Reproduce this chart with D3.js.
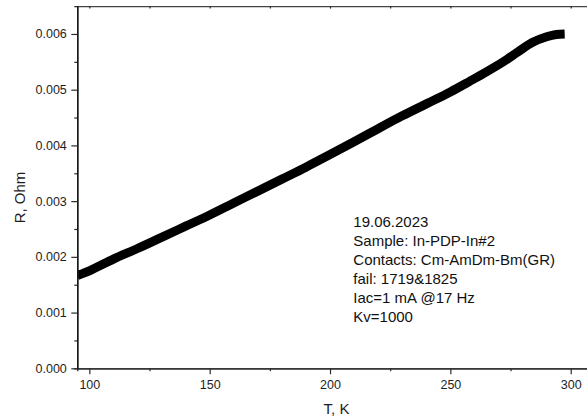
<!DOCTYPE html>
<html>
<head>
<meta charset="utf-8">
<script src="https://cdn.jsdelivr.net/npm/d3@7"></script>
<style>
  html, body { margin: 0; padding: 0; background: #fff; }
  svg { display: block; }
  text { font-family: "Liberation Sans", Arial, sans-serif; }
</style>
</head>
<body>
<svg id="chart" width="587" height="419"></svg>
<script>
// Temperature sweep, K
const temperature = [95, 100, 110, 120, 130, 140, 150, 160, 170, 180, 190, 200, 210,
  220, 230, 240, 250, 258, 265, 272, 278, 284, 290, 294, 297.5];
// Measured resistance, Ohm
const resistance = [0.001666, 0.00175, 0.00196, 0.00215, 0.00235, 0.00255, 0.00275,
  0.002965, 0.00318, 0.003395, 0.00361, 0.003835, 0.004065, 0.0043, 0.00453, 0.004745,
  0.00496, 0.00515, 0.00532, 0.0055, 0.005675, 0.005845, 0.00595, 0.00599, 0.006];

const xMajorTicks = [100, 150, 200, 250, 300];
const xMinorTicks = [125, 175, 225, 275];
const yMajorTicks = [0, 0.001, 0.002, 0.003, 0.004, 0.005, 0.006];
const yMinorTicks = [0.0005, 0.0015, 0.0025, 0.0035, 0.0045, 0.0055];

const notes = [
  "19.06.2023",
  "Sample: In-PDP-In#2",
  "Contacts: Cm-AmDm-Bm(GR)",
  "fail: 1719&1825",
  "Iac=1 mA @17 Hz",
  "Kv=1000"
];

const svg = d3.select("#chart");
const plotLeft = 77.3, plotRight = 589, plotTop = 6.1, plotBottom = 368.3;

const x = d3.scaleLinear().domain([95, 307.6]).range([plotLeft, plotRight]);
const y = d3.scaleLinear().domain([0, 0.0065]).range([plotBottom, plotTop]);

const axisColor = "#2b2b2b";
const labelColor = "#1e1e1e";

function styleAxis(g) {
  g.selectAll("path.domain").attr("stroke", axisColor).attr("stroke-width", 1.3);
  g.selectAll(".tick line").attr("stroke", axisColor).attr("stroke-width", 1.2);
  g.selectAll(".tick text").attr("fill", labelColor)
    .style("font-family", '"Liberation Sans", Arial, sans-serif')
    .style("font-size", "12.5px");
}

// Clip so the data stays inside the frame
svg.append("defs").append("clipPath").attr("id", "plotClip")
  .append("rect").attr("x", plotLeft).attr("y", plotTop)
  .attr("width", plotRight - plotLeft).attr("height", plotBottom - plotTop);

// Data curve
const points = temperature.map((t, i) => [t, resistance[i]]);
const line = d3.line().x(d => x(d[0])).y(d => y(d[1])).curve(d3.curveMonotoneX);
svg.append("path")
  .datum(points)
  .attr("clip-path", "url(#plotClip)")
  .attr("d", line)
  .attr("fill", "none")
  .attr("stroke", "#000")
  .attr("stroke-width", 9)
  .attr("stroke-linejoin", "round");

// Bottom axis: majors with labels, minors without
const gxMinor = svg.append("g").attr("transform", `translate(0,${plotBottom})`)
  .call(d3.axisBottom(x).tickValues(xMinorTicks).tickSize(3).tickFormat(""));
styleAxis(gxMinor);
const gx = svg.append("g").attr("transform", `translate(0,${plotBottom})`)
  .call(d3.axisBottom(x).tickValues(xMajorTicks).tickSize(6).tickPadding(5.5).tickSizeOuter(0)
    .tickFormat(d3.format("d")));
styleAxis(gx);

// Top frame with inward ticks
const gTop = svg.append("g").attr("transform", `translate(0,${plotTop})`)
  .call(d3.axisBottom(x).tickValues(xMajorTicks.concat(xMinorTicks)).tickSize(2.5).tickSizeOuter(0).tickFormat(""));
styleAxis(gTop);
gTop.select("path.domain").attr("stroke", "#444").attr("stroke-width", 1.1);

// Left axis
const gyMinor = svg.append("g").attr("transform", `translate(${plotLeft},0)`)
  .call(d3.axisLeft(y).tickValues(yMinorTicks).tickSize(3).tickFormat(""));
styleAxis(gyMinor);
const gy = svg.append("g").attr("transform", `translate(${plotLeft},0)`)
  .call(d3.axisLeft(y).tickValues(yMajorTicks).tickSize(6).tickPadding(4.5).tickSizeOuter(0)
    .tickFormat(d3.format(".3f")));
styleAxis(gy);
gy.select("path.domain").attr("stroke", "#111");

// Axis titles
svg.append("text")
  .attr("x", 336.5).attr("y", 413.5)
  .attr("text-anchor", "middle")
  .attr("fill", labelColor)
  .style("font-size", "15px")
  .text("T, K");

svg.append("text")
  .attr("transform", "translate(24.5,197.5) rotate(-90)")
  .attr("text-anchor", "middle")
  .attr("fill", labelColor)
  .style("font-size", "15px")
  .text("R, Ohm");

// Measurement notes
const noteG = svg.append("g");
notes.forEach((s, i) => {
  noteG.append("text")
    .attr("x", 353.3).attr("y", 226.7 + i * 19)
    .attr("fill", "#111")
    .style("font-size", "15px")
    .text(s);
});
</script>
</body>
</html>
